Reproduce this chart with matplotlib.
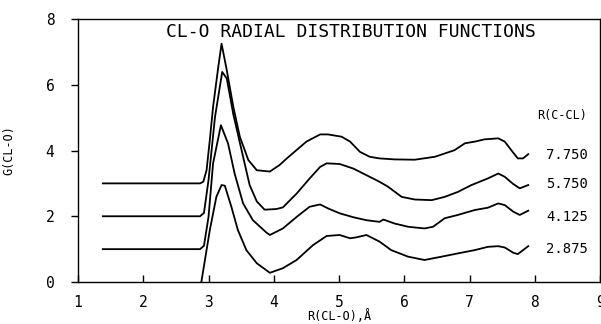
import matplotlib
matplotlib.use("Agg")
import matplotlib.pyplot as plt

# g(r) curves, one per C-CL distance (offset by 3, 2, 1, 0)
r_7750 = [1.38, 2.87, 2.92, 2.97, 3.02, 3.07, 3.15, 3.20, 3.28, 3.38, 3.48, 3.61, 3.74,
          3.94, 4.09, 4.20, 4.50, 4.71, 4.83, 5.04, 5.17, 5.32, 5.47, 5.62, 5.85, 6.16,
          6.47, 6.62, 6.77, 6.93, 7.08, 7.23, 7.44, 7.54, 7.64, 7.74, 7.82, 7.90]
g_7750 = [0.00, 0.00, 0.05, 0.40, 1.32, 2.33, 3.55, 4.25, 3.44, 2.33, 1.42, 0.71, 0.40,
          0.36, 0.56, 0.76, 1.27, 1.49, 1.49, 1.42, 1.27, 0.96, 0.81, 0.76, 0.73, 0.72,
          0.81, 0.91, 1.01, 1.22, 1.27, 1.34, 1.37, 1.27, 1.01, 0.76, 0.76, 0.89]

r_5750 = [1.38, 2.87, 2.93, 3.00, 3.10, 3.21, 3.28, 3.38, 3.53, 3.63, 3.74, 3.86, 4.04,
          4.14, 4.35, 4.55, 4.71, 4.81, 5.01, 5.22, 5.42, 5.62, 5.75, 5.96, 6.16, 6.42,
          6.62, 6.82, 7.03, 7.28, 7.44, 7.54, 7.67, 7.77, 7.90]
g_5750 = [0.00, 0.00, 0.10, 1.10, 3.03, 4.39, 4.19, 3.10, 1.81, 0.95, 0.45, 0.20, 0.22,
          0.27, 0.69, 1.15, 1.50, 1.61, 1.59, 1.45, 1.25, 1.05, 0.90, 0.59, 0.51, 0.49,
          0.59, 0.74, 0.95, 1.15, 1.30, 1.20, 0.98, 0.85, 0.95]

r_4125 = [1.38, 2.87, 2.93, 3.00, 3.07, 3.19, 3.30, 3.40, 3.53, 3.68, 3.89, 3.94, 4.14,
          4.35, 4.55, 4.71, 4.83, 5.01, 5.22, 5.42, 5.62, 5.68, 5.85, 6.06, 6.31, 6.44,
          6.62, 6.82, 7.08, 7.28, 7.44, 7.54, 7.67, 7.77, 7.90]
g_4125 = [0.00, 0.00, 0.10, 0.98, 2.61, 3.77, 3.21, 2.30, 1.39, 0.88, 0.50, 0.43, 0.63,
          0.98, 1.29, 1.36, 1.24, 1.09, 0.97, 0.88, 0.83, 0.90, 0.78, 0.68, 0.63, 0.68,
          0.94, 1.04, 1.19, 1.26, 1.39, 1.34, 1.14, 1.04, 1.17]

r_2875 = [2.89, 3.02, 3.12, 3.20, 3.25, 3.35, 3.45, 3.58, 3.74, 3.94, 4.14, 4.35, 4.60,
          4.81, 5.01, 5.17, 5.27, 5.42, 5.62, 5.80, 6.06, 6.31, 6.57, 6.82, 7.08, 7.28,
          7.44, 7.54, 7.67, 7.74, 7.90]
g_2875 = [0.00, 1.58, 2.59, 2.95, 2.93, 2.29, 1.58, 0.97, 0.57, 0.28, 0.42, 0.67, 1.12,
          1.40, 1.43, 1.33, 1.36, 1.43, 1.23, 0.97, 0.77, 0.67, 0.77, 0.87, 0.97, 1.07,
          1.09, 1.05, 0.89, 0.85, 1.09]

labels = ["7.750", "5.750", "4.125", "2.875"]
offsets = [3, 2, 1, 0]
label_y = [3.86, 2.98, 1.98, 1.00]

mono = "DejaVu Sans Mono"

fig = plt.figure(figsize=(6.01, 3.24), dpi=100)
ax = fig.add_axes([0.1298, 0.1296, 0.8686, 0.8117])

curves = [(r_7750, g_7750), (r_5750, g_5750), (r_4125, g_4125), (r_2875, g_2875)]
for (r, g), off in zip(curves, offsets):
    ax.plot(r, [v + off for v in g], color="black", lw=1.3)

for lab, y in zip(labels, label_y):
    ax.text(8.5, y, lab, ha="center", va="center", fontsize=10, family=mono)
ax.text(8.42, 5.08, "R(C-CL)", ha="center", va="center", fontsize=8.5, family=mono)

ax.text(5.18, 7.61, "CL-O RADIAL DISTRIBUTION FUNCTIONS", ha="center", va="center",
        fontsize=13, family=mono)

ax.set_xlim(1, 9)
ax.set_ylim(0, 8)
ax.set_xticks(range(1, 10))
ax.set_yticks([0, 2, 4, 6, 8])
ax.tick_params(axis="x", direction="in", length=5, width=1, pad=9, labelsize=10.5)
ax.tick_params(axis="y", direction="out", length=5, width=1, pad=12, labelsize=10.5)
for lbl in ax.get_xticklabels() + ax.get_yticklabels():
    lbl.set_family(mono)
for s in ax.spines.values():
    s.set_linewidth(1.0)

ax.set_xlabel("R(CL-O),Å", family=mono, fontsize=8.5, labelpad=0)
ax.set_ylabel("G(CL-O)", family=mono, fontsize=8.5, labelpad=22)

fig.savefig("out.png", dpi=100)
